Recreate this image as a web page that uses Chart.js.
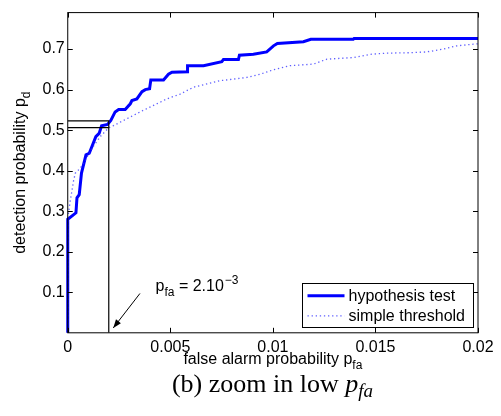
<!DOCTYPE html>
<html>
<head>
<meta charset="utf-8">
<script src="https://cdn.jsdelivr.net/npm/chart.js@4.4.0/dist/chart.umd.min.js"></script>
<style>
  html, body { margin: 0; padding: 0; background: #fff; }
  #wrap { position: relative; width: 501px; height: 416px; overflow: hidden; }
  #caption {
    position: absolute; left: 0; width: 545px; top: 369px; line-height: 30px;
    text-align: center; font-family: "Liberation Serif", "Times New Roman", serif; font-size: 26px; color: #000;
  }
  #caption .sub { font-size: 19px; position: relative; top: 5px; }
</style>
</head>
<body>
<div id="wrap">
  <canvas id="roc" width="501" height="416"></canvas>
  <div id="caption">(b) zoom in low <i>p<span class="sub">fa</span></i></div>
</div>
<script>
// hypothesis test curve (solid)
const hypX = [0, 0, 0.0004, 0.00045, 0.00056, 0.00067, 0.00089, 0.00105, 0.00137, 0.00153, 0.00165, 0.00194,
  0.0021, 0.00231, 0.00248, 0.0028, 0.00305, 0.00313, 0.00337, 0.00362, 0.00378, 0.00399, 0.00405, 0.00467,
  0.00491, 0.00508, 0.00584, 0.00584, 0.00662, 0.00751, 0.00759, 0.00832, 0.00837, 0.00905, 0.0097, 0.01003,
  0.01022, 0.01149, 0.01185, 0.01392, 0.01396, 0.02];
const hypY = [0, 0.28, 0.296, 0.333, 0.341, 0.394, 0.439, 0.443, 0.484, 0.492, 0.511, 0.514,
  0.524, 0.545, 0.551, 0.551, 0.565, 0.573, 0.577, 0.595, 0.600, 0.602, 0.624, 0.624,
  0.638, 0.643, 0.644, 0.659, 0.659, 0.669, 0.674, 0.674, 0.685, 0.687, 0.693, 0.708,
  0.714, 0.718, 0.724, 0.724, 0.726, 0.726];

// simple threshold curve (dotted)
const thrX = [0, 0, 0.00005, 0.00012, 0.0002, 0.00028, 0.00037, 0.00061, 0.00077, 0.00118, 0.0016, 0.002,
  0.00223, 0.00288, 0.00353, 0.00418, 0.00483, 0.00548, 0.00613, 0.00678, 0.00743, 0.00808, 0.00873, 0.00938,
  0.01003, 0.01084, 0.01198, 0.01263, 0.01392, 0.01474, 0.01555, 0.01669, 0.0175, 0.01831, 0.01896, 0.01977, 0.02];
const thrY = [0, 0.28, 0.30, 0.325, 0.349, 0.374, 0.394, 0.406, 0.418, 0.455, 0.485, 0.506,
  0.511, 0.528, 0.545, 0.561, 0.577, 0.589, 0.606, 0.614, 0.622, 0.626, 0.630, 0.638,
  0.649, 0.659, 0.663, 0.675, 0.679, 0.687, 0.690, 0.691, 0.693, 0.700, 0.708, 0.712, 0.713];

// operating point marked on the plot
const pfaMark = 0.002;
const pdHypMark = 0.523;
const pdThrMark = 0.506;
const arrowTail = { x: 0.00352, y: 0.097 };
const arrowHead = { x: 0.00222, y: 0.012 };
const noteAt = { x: 0.00428, y: 0.103 };

const xTicks = [0, 0.005, 0.01, 0.015, 0.02];
const xTickLabels = ['0', '0.005', '0.01', '0.015', '0.02'];
const yTicks = [0.1, 0.2, 0.3, 0.4, 0.5, 0.6, 0.7];
const yTickLabels = ['0.1', '0.2', '0.3', '0.4', '0.5', '0.6', '0.7'];

const FONT = '"Liberation Sans", Arial, sans-serif';

function pts(xs, ys) {
    return xs.map((x, i) => ({ x: x, y: ys[i] }));
}

// frame, inward ticks, axis titles, arrow note and legend box
const matlabAxes = {
    id: 'matlabAxes',
    afterDraw(chart) {
        const c = chart.ctx;
        const a = chart.chartArea;
        const xs = chart.scales.x, ys = chart.scales.y;
        c.save();
        c.strokeStyle = '#000';
        c.lineWidth = 1;
        c.strokeRect(a.left, a.top, a.right - a.left, a.bottom - a.top);
        c.beginPath();
        xTicks.forEach(v => {
            const px = Math.round(xs.getPixelForValue(v)) + 0.5;
            c.moveTo(px, a.bottom); c.lineTo(px, a.bottom - 5);
            c.moveTo(px, a.top); c.lineTo(px, a.top + 5);
        });
        yTicks.forEach(v => {
            const py = Math.round(ys.getPixelForValue(v)) + 0.5;
            c.moveTo(a.left, py); c.lineTo(a.left + 5, py);
            c.moveTo(a.right, py); c.lineTo(a.right - 5, py);
        });
        c.stroke();

        // arrow
        const tx = xs.getPixelForValue(arrowTail.x), ty = ys.getPixelForValue(arrowTail.y);
        const hx = xs.getPixelForValue(arrowHead.x), hy = ys.getPixelForValue(arrowHead.y);
        const ang = Math.atan2(hy - ty, hx - tx);
        c.beginPath();
        c.moveTo(tx, ty); c.lineTo(hx, hy);
        c.stroke();
        c.beginPath();
        c.moveTo(hx, hy);
        c.lineTo(hx - 9 * Math.cos(ang - 0.35), hy - 9 * Math.sin(ang - 0.35));
        c.lineTo(hx - 9 * Math.cos(ang + 0.35), hy - 9 * Math.sin(ang + 0.35));
        c.closePath();
        c.fillStyle = '#000';
        c.fill();

        // note text p_fa = 2.10^-3
        c.fillStyle = '#000';
        c.textBaseline = 'alphabetic';
        c.textAlign = 'left';
        let nx = xs.getPixelForValue(noteAt.x);
        const ny = ys.getPixelForValue(noteAt.y);
        c.font = '16px ' + FONT;
        c.fillText('p', nx, ny); nx += c.measureText('p').width;
        c.font = '12px ' + FONT;
        c.fillText('fa', nx, ny + 5); nx += c.measureText('fa').width;
        c.font = '16px ' + FONT;
        c.fillText(' = 2.10', nx, ny); nx += c.measureText(' = 2.10').width;
        c.font = '12px ' + FONT;
        c.fillText('\u22123', nx + 1, ny - 7);

        // x title
        const xt1 = 'false alarm probability p', xt2 = 'fa';
        c.font = '16px ' + FONT;
        const w1 = c.measureText(xt1).width;
        c.font = '12px ' + FONT;
        const w2 = c.measureText(xt2).width;
        let x0 = (a.left + a.right) / 2 - (w1 + w2) / 2;
        const xb = a.bottom + 31;
        c.font = '16px ' + FONT;
        c.fillText(xt1, x0, xb);
        c.font = '12px ' + FONT;
        c.fillText(xt2, x0 + w1, xb + 5);

        // y title (rotated)
        const yt1 = 'detection probability p', yt2 = 'd';
        c.font = '16px ' + FONT;
        const v1 = c.measureText(yt1).width;
        c.font = '12px ' + FONT;
        const v2 = c.measureText(yt2).width;
        c.translate(a.left - 43, (a.top + a.bottom) / 2);
        c.rotate(-Math.PI / 2);
        c.font = '16px ' + FONT;
        c.fillText(yt1, -(v1 + v2) / 2, 0);
        c.font = '12px ' + FONT;
        c.fillText(yt2, -(v1 + v2) / 2 + v1, 5);
        c.setTransform(1, 0, 0, 1, 0, 0);

        // legend box
        const lw = 171, lh = 44;
        const lx = a.right - 5.5 - lw, ly = a.bottom - 5.5 - lh;
        c.fillStyle = '#fff';
        c.fillRect(lx, ly, lw, lh);
        c.strokeStyle = '#000';
        c.lineWidth = 1;
        c.strokeRect(Math.round(lx) + 0.5, Math.round(ly) + 0.5, lw, lh);
        [0, 1].forEach((di, row) => {
            const ds = chart.data.datasets[di];
            const ry = ly + 12.5 + row * 20;
            c.beginPath();
            c.strokeStyle = ds.borderColor;
            c.lineWidth = ds.borderWidth;
            c.setLineDash(ds.borderDash || []);
            c.moveTo(lx + 6, ry); c.lineTo(lx + 43, ry);
            c.stroke();
            c.setLineDash([]);
            c.fillStyle = '#000';
            c.font = '16px ' + FONT;
            c.textBaseline = 'middle';
            c.fillText(ds.label, lx + 47, ry + 1);
        });
        c.restore();
    }
};

new Chart(document.getElementById('roc'), {
    type: 'scatter',
    data: {
        datasets: [
            {
                label: 'hypothesis test',
                data: pts(hypX, hypY),
                showLine: true,
                borderColor: '#0000ff',
                borderWidth: 3,
                pointRadius: 0,
                clip: 4,
                order: 3
            },
            {
                label: 'simple threshold',
                data: pts(thrX, thrY),
                showLine: true,
                borderColor: 'rgba(40, 40, 255, 0.75)',
                borderWidth: 1.3,
                borderDash: [1.3, 2.8],
                pointRadius: 0,
                order: 2
            },
            {
                label: 'hyp mark',
                data: [{ x: 0, y: pdHypMark }, { x: pfaMark, y: pdHypMark }, { x: pfaMark, y: 0 }],
                showLine: true,
                borderColor: '#000',
                borderWidth: 1.2,
                pointRadius: 0,
                order: 1
            },
            {
                label: 'thr mark',
                data: [{ x: 0, y: pdThrMark }, { x: pfaMark, y: pdThrMark }],
                showLine: true,
                borderColor: '#000',
                borderWidth: 1.2,
                pointRadius: 0,
                order: 1
            }
        ]
    },
    options: {
        animation: false,
        responsive: false,
        layout: { padding: { left: 39.5, top: 8, right: 23, bottom: 54 } },
        plugins: {
            legend: { display: false },
            tooltip: { enabled: false }
        },
        scales: {
            x: {
                type: 'linear',
                min: 0,
                max: 0.02,
                grid: { display: false, drawTicks: false },
                border: { display: false },
                afterBuildTicks: s => { s.ticks = xTicks.map(v => ({ value: v })); },
                ticks: {
                    autoSkip: false,
                    maxRotation: 0,
                    padding: 5,
                    color: '#000',
                    font: { family: FONT, size: 16 },
                    callback: (v, i) => xTickLabels[i]
                }
            },
            y: {
                type: 'linear',
                min: 0,
                max: 0.79,
                grid: { display: false, drawTicks: false },
                border: { display: false },
                afterBuildTicks: s => { s.ticks = yTicks.map(v => ({ value: v })); },
                ticks: {
                    autoSkip: false,
                    padding: 3,
                    color: '#000',
                    font: { family: FONT, size: 16 },
                    callback: (v, i) => yTickLabels[i]
                }
            }
        }
    },
    plugins: [matlabAxes]
});
</script>
</body>
</html>
